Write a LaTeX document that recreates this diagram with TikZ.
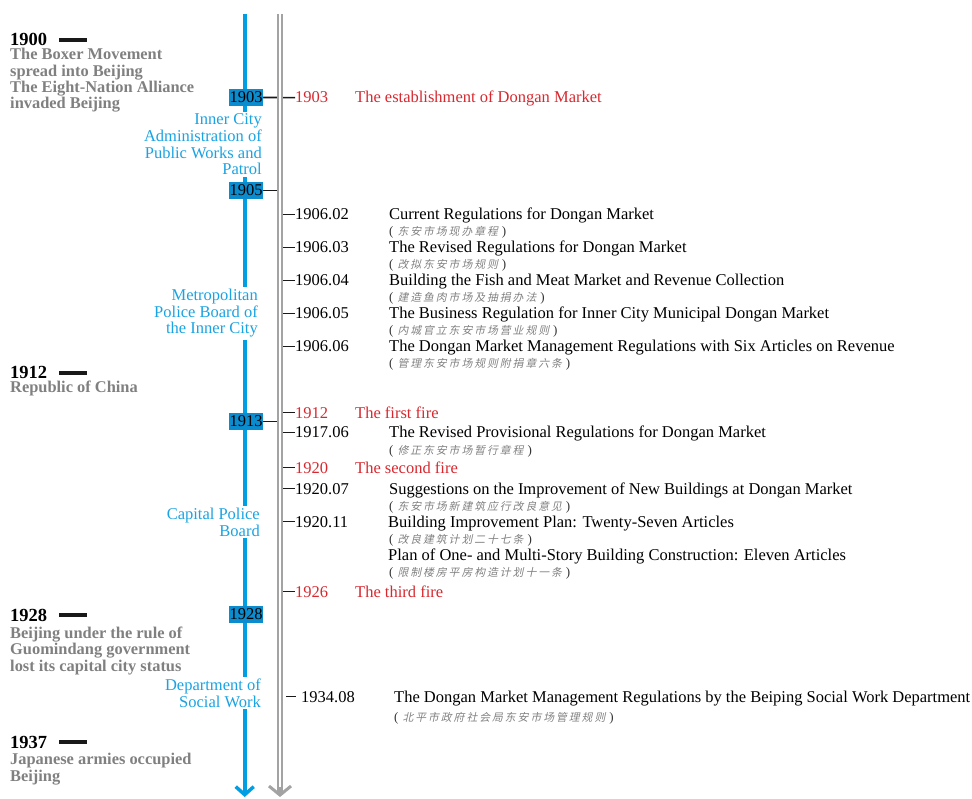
\documentclass[tikz,border=0pt]{standalone}
\usepackage{fontspec}
\setmainfont{Liberation Serif}
\newfontfamily\cjkfont[FakeSlant=0.22]{Noto Sans CJK SC}
\usepackage{xcolor}
\usepackage{tikz}
\usetikzlibrary{arrows.meta}
\definecolor{LineBlue}{HTML}{009FE3}
\definecolor{BoxBlue}{HTML}{0A8CCF}
\definecolor{LabelBlue}{HTML}{1AA3E3}
\definecolor{FireRed}{HTML}{D7282F}
\definecolor{EraGray}{HTML}{808080}
\definecolor{AxisGray}{HTML}{A3A3A3}
\ExplSyntaxOn
\NewDocumentCommand{\zhspaced}{m}{\tl_map_inline:nn {#1} {##1\kern 2pt}}
\ExplSyntaxOff
\newcommand{\zh}[1]{{\fontsize{13}{13}\selectfont(}\hspace{4pt}{\cjkfont\color{EraGray}\zhspaced{#1}}\hspace{2pt}{\fontsize{13}{13}\selectfont)}}

\begin{document}
\begin{tikzpicture}[
    x=1pt, y=-1pt,
    every node/.style={inner sep=0pt},
    year/.style={anchor=base west, font=\fontsize{18.5}{20}\selectfont\bfseries},
    era/.style={anchor=base west, align=left, text=EraGray, font=\fontsize{16.4}{16.4}\selectfont\bfseries},
    yeardash/.style={line width=3.5pt, black!90},
    yearbox/.style={fill=BoxBlue, minimum width=34pt, minimum height=17pt, font=\fontsize{16.5}{17}\selectfont},
    dept/.style={anchor=base east, align=right, fill=white, inner ysep=2pt, text=LabelBlue, font=\fontsize{16.5}{16.7}\selectfont},
    datelbl/.style={anchor=base west, font=\fontsize{16.5}{17}\selectfont},
    doc/.style={anchor=base west, font=\fontsize{16.5}{17}\selectfont},
    fire/.style={anchor=base west, text=FireRed, font=\fontsize{16.5}{17}\selectfont},
    zhdoc/.style={anchor=base west, text=black!80, font=\fontsize{10.8}{12}\selectfont},
    tickline/.style={line width=1.6pt, black!90}
]
    \useasboundingbox (0,0) rectangle (972,799);

    % the two time axes
    \coordinate (btop) at (244.7,14);
    \coordinate (bbot) at (244.7,797);
    \coordinate (gtop) at (280,14);
    \coordinate (gbot) at (280,797);
    \coordinate (gL) at (277,0);
    \coordinate (gR) at (283,0);

    \draw[LineBlue, line width=4pt, -{Straight Barb[length=8pt,width=18pt,line width=3.5pt]}] (btop) -- (bbot);

    % political events (base = last line)
    \node[year] (y1900) at (10,46) {1900};
    \node[era] (e1900) at (10,109) {The Boxer Movement\\spread into Beijing\\The Eight-Nation Alliance\\invaded Beijing};
    \node[year] (y1912) at (10,379) {1912};
    \node[era] (e1912) at (10,393) {Republic of China};
    \node[year] (y1928) at (10,621) {1928};
    \node[era] (e1928) at (10,671) {Beijing under the rule of\\Guomindang government\\lost its capital city status};
    \node[year] (y1937) at (10,748) {1937};
    \node[era] (e1937) at (10,781) {Japanese armies occupied\\Beijing};
    \foreach \y in {y1900,y1912,y1928,y1937}
        \draw[yeardash] ([xshift=12pt]\y.east) -- ++(28,0);

    % administrations
    \node[dept] (inner) at (262,175) {Inner City\\Administration of\\Public Works and\\Patrol};
    \node[dept] (metro) at (258,334) {Metropolitan\\Police Board of\\the Inner City};
    \node[dept] (capital) at (260,536) {Capital Police\\Board};
    \node[dept] (social) at (261,707) {Department of\\Social Work};

    \node[yearbox] (b1903) at (246,97.5) {1903};
    \node[yearbox] (b1905) at (246,190.5) {1905};
    \node[yearbox] (b1913) at (246,421.5) {1913};
    \node[yearbox] (b1928) at (246,614.5) {1928};

    % market documents
    \node[datelbl, text=FireRed] (d1903) at (295,103) {1903};
    \node[fire] (t1903) at (355,103) {The establishment of Dongan Market};

    \node[datelbl] (d0602) at (295,220) {1906.02};
    \node[doc] (t0602) at (389,220) {Current Regulations for Dongan Market};
    \node[zhdoc] (z0602) at (389,236) {\zh{东安市场现办章程}};
    \node[datelbl] (d0603) at (295,253) {1906.03};
    \node[doc] (t0603) at (389,253) {The Revised Regulations for Dongan Market};
    \node[zhdoc] (z0603) at (389,269) {\zh{改拟东安市场规则}};
    \node[datelbl] (d0604) at (295,286) {1906.04};
    \node[doc] (t0604) at (389,286) {Building the Fish and Meat Market and Revenue Collection};
    \node[zhdoc] (z0604) at (389,302) {\zh{建造鱼肉市场及抽捐办法}};
    \node[datelbl] (d0605) at (295,319) {1906.05};
    \node[doc] (t0605) at (389,319) {The Business Regulation for Inner City Municipal Dongan Market};
    \node[zhdoc] (z0605) at (389,335) {\zh{内城官立东安市场营业规则}};
    \node[datelbl] (d0606) at (295,352) {1906.06};
    \node[doc] (t0606) at (389,352) {The Dongan Market Management Regulations with Six Articles on Revenue};
    \node[zhdoc] (z0606) at (389,368) {\zh{管理东安市场规则附捐章六条}};

    \node[datelbl, text=FireRed] (d1912) at (295,418) {1912};
    \node[fire] (t1912) at (355,418) {The first fire};
    \node[datelbl] (d1706) at (295,438) {1917.06};
    \node[doc] (t1706) at (389,438) {The Revised Provisional Regulations for Dongan Market};
    \node[zhdoc] (z1706) at (389,454) {\zh{修正东安市场暂行章程}};
    \node[datelbl, text=FireRed] (d1920) at (295,473) {1920};
    \node[fire] (t1920) at (355,473) {The second fire};
    \node[datelbl] (d2007) at (295,494) {1920.07};
    \node[doc] (t2007) at (389,494) {Suggestions on the Improvement of New Buildings at Dongan Market};
    \node[zhdoc] (z2007) at (389,510) {\zh{东安市场新建筑应行改良意见}};
    \node[datelbl] (d2011) at (295,527) {1920.11};
    \node[doc] (t2011) at (388,527) {Building Improvement Plan: Twenty-Seven Articles};
    \node[zhdoc] (z2011) at (389,543) {\zh{改良建筑计划二十七条}};
    \node[doc] (tplan) at (388,560) {Plan of One- and Multi-Story Building Construction: Eleven Articles};
    \node[zhdoc] (zplan) at (389,576) {\zh{限制楼房平房构造计划十一条}};
    \node[datelbl, text=FireRed] (d1926) at (295,597) {1926};
    \node[fire] (t1926) at (355,597) {The third fire};

    \node[datelbl] (d3408) at (301,702) {1934.08};
    \node[doc] (t3408) at (394,702) {The Dongan Market Management Regulations by the Beiping Social Work Department};
    \node[zhdoc] (z3408) at (394,721) {\zh{北平市政府社会局东安市场管理规则}};

    % ticks
    \draw[tickline] (b1903.east) -- (d1903.west);
    \draw[tickline] (b1905.east) -- (b1905.east -| gL);
    \draw[tickline] (b1913.east) -- (b1913.east -| gL);
    \foreach \d in {d0602,d0603,d0604,d0605,d0606,d1912,d1706,d1920,d2007,d2011,d1926}
        \draw[tickline] (\d.west -| gR) -- (\d.west);
    \draw[tickline] ([xshift=3pt]d3408.west -| gR) -- ([xshift=-5pt]d3408.west);

    \draw[AxisGray, line width=6pt, -{Straight Barb[length=9pt,width=22pt,line width=3pt]}] (gtop) -- (gbot);
    \draw[white, line width=2pt] (gtop) -- ([yshift=10pt]gbot);
\end{tikzpicture}
\end{document}
